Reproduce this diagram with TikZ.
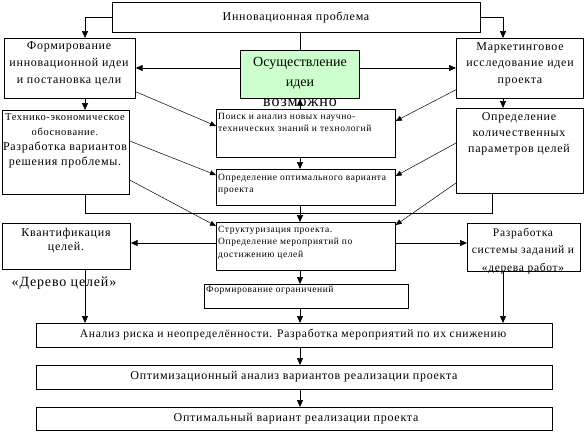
\documentclass[tikz,border=0pt]{standalone}
\usepackage{fontspec}
\setmainfont{Liberation Serif}[LetterSpace=6]
\newfontfamily\plainserif{Liberation Serif}
\usetikzlibrary{arrows.meta,calc}
\definecolor{gcol}{HTML}{CCFFCC}
\begin{document}
\begin{tikzpicture}[x=1pt,y=-1pt,
  box/.style={draw, line width=0.7pt, inner sep=0pt, anchor=north west},
  txt/.style={inner sep=0pt, align=center},
  ltxt/.style={inner sep=0pt, align=left, anchor=north west, font=\fontsize{9.5}{12.5}\selectfont},
  arr/.style={line width=0.7pt, -{Triangle[length=7pt,width=6pt]}},
  darr/.style={line width=0.5pt, -{Triangle[length=6pt,width=5pt]}},
  ln/.style={line width=0.7pt}]
\useasboundingbox (0,0) rectangle (586,432);
% helper coordinates
\coordinate (cL) at (85,0);
\coordinate (cC) at (300,0);
\coordinate (cR) at (503,0);
\coordinate (cK) at (492,0);
\coordinate (h1) at (0,213);
\coordinate (r1) at (0,68);
\coordinate (r2) at (0,243);
% boxes
\node[box, minimum width=368pt, minimum height=30pt] (top) at (112,2) {};
\node[box, minimum width=131pt, minimum height=60pt] (f1) at (4,38) {};
\node[inner sep=0pt, anchor=base, font=\fontsize{16}{18}\selectfont] (vozm) at (300,106) {возможно};
\node[box, fill=gcol, minimum width=119pt, minimum height=48pt] (g) at (240,50) {};
\node[box, minimum width=127pt, minimum height=60pt] (m1) at (456,38) {};
\node[box, minimum width=179pt, minimum height=48pt] (p1) at (216,109) {};
\node[box, minimum width=179pt, minimum height=36pt] (o1) at (216,169) {};
\node[box, minimum width=179pt, minimum height=48pt] (s1) at (216,222) {};
\node[box, minimum width=204pt, minimum height=24pt] (fo) at (204,284) {};
\node[box, minimum width=127pt, minimum height=84pt] (t1) at (2,110) {};
\node[box, minimum width=127pt, minimum height=85pt] (k1) at (456,108) {};
\node[box, minimum width=128pt, minimum height=46pt] (q1) at (2,223) {};
\node[box, minimum width=113pt, minimum height=48pt] (w1) at (467,223) {};
\node[box, minimum width=516pt, minimum height=24pt] (a1) at (36,323) {};
\node[box, minimum width=516pt, minimum height=24pt] (b1) at (36,365) {};
\node[box, minimum width=516pt, minimum height=23pt] (c1) at (36,407) {};
% texts
\node[txt, font=\fontsize{12}{14}\selectfont] (ttop) at (296,17) {Инновационная проблема};
\node[txt, font=\fontsize{12}{17}\selectfont] (tf1) at (69,64) {Формирование\\инновационной идеи\\и постановка цели};
\node[txt, font=\fontsize{14}{20}\plainserif] (tg) at (300,73) {Осуществление\\идеи};
\node[txt, font=\fontsize{12}{16.5}\selectfont] (tm1) at (520,64) {Маркетинговое\\исследование идеи\\проекта};
\node[ltxt] (tp1) at (218,112.6) {Поиск и анализ новых научно-\\технических знаний и технологий};
\node[ltxt] (to1) at (218,174) {Определение оптимального варианта\\проекта};
\node[ltxt] (ts1) at (218,226) {Структуризация проекта.\\Определение мероприятий по\\достижению целей};
\node[ltxt] (tfo) at (206,286) {Формирование ограничений};
\node[txt, font=\fontsize{10.5}{15}\selectfont] (tt1) at (65,140.5) {Технико-экономическое\\обоснование.\\{\fontsize{12}{15}\selectfont Разработка вариантов}\\{\fontsize{12}{15}\selectfont решения проблемы.}};
\node[txt, font=\fontsize{12}{16}\selectfont] (tk1) at (519,134) {Определение\\количественных\\параметров целей};
\node[txt, font=\fontsize{12}{14}\selectfont] (tq1) at (66,240) {Квантификация\\целей.};
\node[txt, font=\fontsize{14}{16}\selectfont] (tdt) at (64,283) {«Дерево целей»};
\node[txt, font=\fontsize{11.5}{17.5}\selectfont] (tw1) at (523,251) {Разработка\\системы заданий и\\«дерева работ»};
\node[txt, font=\fontsize{11.6}{14}\selectfont] (ta1) at (293,335) {Анализ риска и неопределённости. Разработка мероприятий по их снижению};
\node[txt, font=\fontsize{12}{14}\selectfont] (tb1) at (294,377) {Оптимизационный анализ вариантов реализации проекта};
\node[txt, font=\fontsize{12}{14}\selectfont] (tc1) at (296,418.5) {Оптимальный вариант реализации проекта};
% connectors
\draw[arr] (top.west) -| (f1.north -| cL);
\draw[arr] (top.east) -| (m1.north -| cR);
\draw[ln] (top.south -| cC) -- (g.north -| cC);
\draw[arr] (g.west |- r1) -- (f1.east |- r1);
\draw[arr] (g.east |- r1) -- (m1.west |- r1);
\draw[arr] (p1.north -| cC) -- (g.south -| cC);
\draw[arr] (f1.south -| cL) -- (t1.north -| cL);
\draw[arr] (m1.south -| cR) -- (k1.north -| cR);
\draw[arr] (p1.south -| cC) -- (o1.north -| cC);
\draw[ln] (t1.south -| cL) -- (cL |- h1) -- (cK |- h1) -- (k1.south -| cK);
\draw[arr] (o1.south -| cC) -- (s1.north -| cC);
\draw[arr] (s1.west |- r2) -- (q1.east |- r2);
\draw[arr] (s1.east |- r2) -- (w1.west |- r2);
\draw[arr] (s1.south -| cC) -- (fo.north -| cC);
\draw[arr] (fo.south -| cC) -- (a1.north -| cC);
\draw[arr] (q1.south -| cL) -- (a1.north -| cL);
\draw[arr] (w1.south -| cR) -- (a1.north -| cR);
\draw[arr] (a1.south -| cC) -- (b1.north -| cC);
\draw[arr] (b1.south -| cC) -- (c1.north -| cC);
% diagonal connectors
\draw[darr] ($(f1.south east)+(0,-7)$) -- ($(p1.north west)+(0,17)$);
\draw[darr] ($(t1.north east)+(0,31)$) -- ($(o1.north west)+(0,6)$);
\draw[darr] ($(t1.north east)+(0,70)$) -- ($(s1.north west)+(0,4)$);
\draw[darr] ($(m1.south west)+(0,-9)$) -- ($(p1.north east)+(0,12)$);
\draw[darr] ($(k1.north west)+(0,35)$) -- ($(o1.north east)+(0,7)$);
\draw[darr] ($(k1.north west)+(0,75)$) -- ($(s1.north east)+(0,3)$);
\end{tikzpicture}
\end{document}
